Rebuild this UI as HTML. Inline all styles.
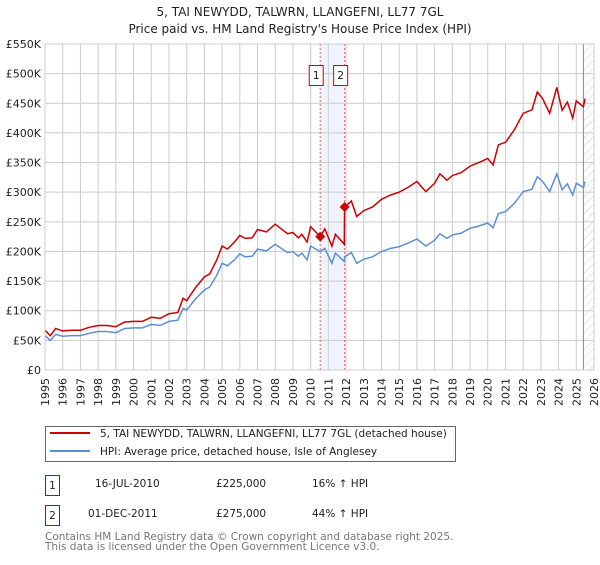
<!DOCTYPE html>
<html><head><meta charset="utf-8"><style>
body{margin:0;background:#fff;}
svg text{font-family:"DejaVu Sans","Liberation Sans",sans-serif;}
</style></head><body>
<svg id="c" width="600" height="560" xmlns="http://www.w3.org/2000/svg">
<defs><pattern id="hatch" width="6" height="6" patternUnits="userSpaceOnUse" patternTransform="rotate(45)"><line x1="0" y1="0" x2="0" y2="6" stroke="#ccc" stroke-width="1"/></pattern></defs>
<text x="300" y="16" text-anchor="middle" font-size="12" fill="#222">5, TAI NEWYDD, TALWRN, LLANGEFNI, LL77 7GL</text>
<text x="300" y="33" text-anchor="middle" font-size="12" fill="#222">Price paid vs. HM Land Registry's House Price Index (HPI)</text>
<g id="grid"></g><g id="plot"></g>
<g>
<rect x="45.5" y="426.5" width="410" height="35" fill="#fff" stroke="#666"/>
<line x1="50" y1="433" x2="90" y2="433" stroke="#cc0000" stroke-width="2"/>
<text x="100" y="437" font-size="10.5" fill="#222">5, TAI NEWYDD, TALWRN, LLANGEFNI, LL77 7GL (detached house)</text>
<line x1="50" y1="451" x2="90" y2="451" stroke="#5b8fd4" stroke-width="2"/>
<text x="100" y="455" font-size="10.5" fill="#222">HPI: Average price, detached house, Isle of Anglesey</text>
</g>
<g font-size="10.5" fill="#222">
<rect x="45.5" y="475.5" width="14" height="20" fill="#fff" stroke="#c00"/><text x="52.5" y="489" text-anchor="middle">1</text>
<text x="95" y="487">16-JUL-2010</text><text x="216" y="487">£225,000</text><text x="312" y="487">16% ↑ HPI</text>
<rect x="45.5" y="505.5" width="14" height="20" fill="#fff" stroke="#c00"/><text x="52.5" y="519" text-anchor="middle">2</text>
<text x="88" y="517">01-DEC-2011</text><text x="216" y="517">£275,000</text><text x="312" y="517">44% ↑ HPI</text>
</g>
<text x="45" y="540" font-size="10.5" fill="#777">Contains HM Land Registry data © Crown copyright and database right 2025.</text>
<text x="45" y="550" font-size="10.5" fill="#777">This data is licensed under the Open Government Licence v3.0.</text>
</svg>
<script>
const years=[1995.0,1995.3,1995.6,1996.0,1996.5,1997.0,1997.5,1998.0,1998.5,1999.0,1999.5,2000.0,2000.5,2001.0,2001.5,2002.0,2002.5,2002.8,2003.0,2003.5,2004.0,2004.3,2004.7,2005.0,2005.3,2005.7,2006.0,2006.3,2006.7,2007.0,2007.5,2008.0,2008.3,2008.7,2009.0,2009.3,2009.5,2009.8,2010.0,2010.54,2010.8,2011.2,2011.4,2011.9,2011.92,2012.3,2012.6,2013.0,2013.5,2014.0,2014.5,2015.0,2015.5,2016.0,2016.5,2017.0,2017.3,2017.7,2018.0,2018.5,2019.0,2019.5,2020.0,2020.3,2020.6,2021.0,2021.5,2022.0,2022.5,2022.8,2023.1,2023.5,2023.9,2024.2,2024.5,2024.8,2025.0,2025.4,2025.5];
const hpi=[58,50,60,57,58,58,62,65,65,63,70,71,71,77,75,82,84,104,101,120,135,140,160,180,176,186,196,191,192,204,201,212,206,198,200,192,197,186,209,200,205,180,197,183,191,198,180,187,191,200,205,208,214,221,209,219,230,222,228,231,239,243,248,240,264,267,281,301,305,326,318,301,331,304,314,295,315,308,318];
const price=[67,58,70,66,67,67,72,75,75,73,81,82,82,89,87,95,97,121,117,139,157,162,186,209,204,216,227,222,223,237,233,246,239,230,232,223,229,216,242,225,238,209,229,212,275,285,259,269,275,288,295,300,308,318,301,315,331,320,328,333,344,350,357,346,380,384,405,433,439,469,458,433,477,438,452,425,454,444,458];
const saleYears=[2010.54,2011.92];
const salePrices=[225,275];
const saleLabels=["1","2"];
const yTicks=[0,50,100,150,200,250,300,350,400,450,500,550];
const xTicks=[1995,1996,1997,1998,1999,2000,2001,2002,2003,2004,2005,2006,2007,2008,2009,2010,2011,2012,2013,2014,2015,2016,2017,2018,2019,2020,2021,2022,2023,2024,2025,2026];
const X0=45,X1=594,Y0=370,Y1=44;
const xs=y=>X0+(y-1995)/(2026-1995)*(X1-X0);
const ys=v=>Y0-v/550*(Y0-Y1);
const NS="http://www.w3.org/2000/svg";
function mk(p,t,a){const e=document.createElementNS(NS,t);for(const k in a)e.setAttribute(k,a[k]);p.appendChild(e);return e;}
const g=document.getElementById('grid'),pl=document.getElementById('plot');
mk(g,'rect',{x:X0,y:Y1,width:X1-X0,height:Y0-Y1,fill:'#fff'});
const sh=mk(g,'rect',{x:xs(saleYears[0]),y:Y1,width:xs(saleYears[1])-xs(saleYears[0]),height:Y0-Y1,fill:'#eef3fc'});


const hx=xs(2025.4);
const ht=mk(g,'rect',{x:hx,y:Y1,width:X1-hx,height:Y0-Y1,fill:'url(#hatch)'});


yTicks.forEach(v=>{const y=ys(v);
mk(g,'line',{x1:X0,x2:X1,y1:y,y2:y,stroke:'#ccc'});
const t=mk(g,'text',{x:X0-4,y:y+4,'text-anchor':'end','font-size':'11',fill:'#222'});t.textContent='£'+(v?v+'K':'0');

});
xTicks.forEach(v=>{const x=xs(v);
mk(g,'line',{x1:x,x2:x,y1:Y1,y2:Y0,stroke:'#ccc'});
const t=mk(g,'text',{x:0,y:0,transform:`translate(${x+4},378) rotate(-90)`,'text-anchor':'end','font-size':'11',fill:'#222'});t.textContent=v;

});
mk(g,'line',{x1:hx,x2:hx,y1:Y1,y2:Y0,stroke:'#888'});
saleYears.forEach((s,i)=>{const x=xs(s);
const l=mk(pl,'line',{x1:x,x2:x,y1:Y1,y2:Y0,stroke:'#e06070','stroke-dasharray':'2,2','stroke-width':'1'});


const b=mk(pl,'rect',{x:x-11,y:65.5,width:14,height:20,fill:'#fff',stroke:'#c00'});


const t=mk(pl,'text',{x:x-4,y:79,'text-anchor':'middle','font-size':'11',fill:'#222'});t.textContent=saleLabels[i];});
function path(vals,col,name){const d=vals.map((v,i)=>(i?'L':'M')+xs(years[i]).toFixed(1)+','+ys(v).toFixed(1)).join('');
const p=mk(pl,'path',{d:d,fill:'none',stroke:col,'stroke-width':'1.5'});

}
path(hpi,'#5b8fd4','hpi-line');
path(price,'#cc0000','property-price-line');
saleYears.forEach((s,i)=>{const x=xs(s),y=ys(salePrices[i]);
const d=mk(pl,'path',{d:`M${x},${y-5}L${x+5},${y}L${x},${y+5}L${x-5},${y}Z`,fill:'#cc0000'});

});
const f=mk(pl,'rect',{x:X0,y:Y1,width:X1-X0,height:Y0-Y1,fill:'none',stroke:'#ccc'});
</script>
</body></html>
